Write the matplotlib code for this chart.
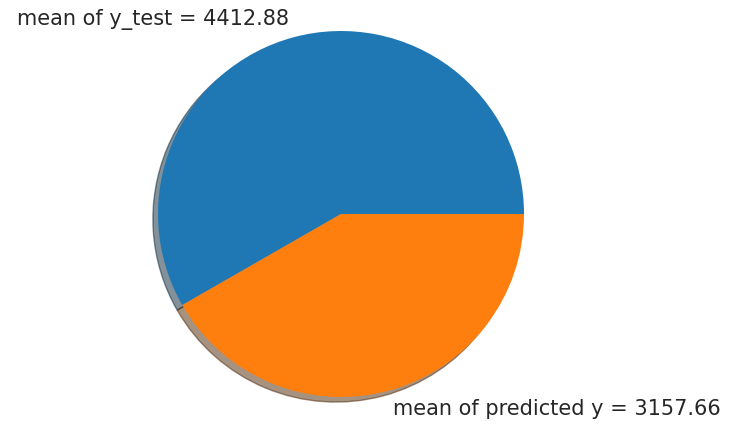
import matplotlib.pyplot as plt

labels = ["mean of y_test = 4412.88", "mean of predicted y = 3157.66"]
values = [4412.88, 3157.66]

fig = plt.figure(figsize=(7.32, 4.28), dpi=100)
# axes sized so the unit circle spans the pie area
r_px = 183
cx, cy = 341, 428 - 214
ax = fig.add_axes([(cx - r_px) / 732, (cy - r_px) / 428, 2 * r_px / 732, 2 * r_px / 428])

ax.pie(values, labels=labels, shadow=True, textprops={"fontsize": 15, "color": "#262626"})
ax.set_xlim(-1, 1)
ax.set_ylim(-1, 1)
ax.set_aspect("equal")

fig.savefig("out.png", dpi=100)
